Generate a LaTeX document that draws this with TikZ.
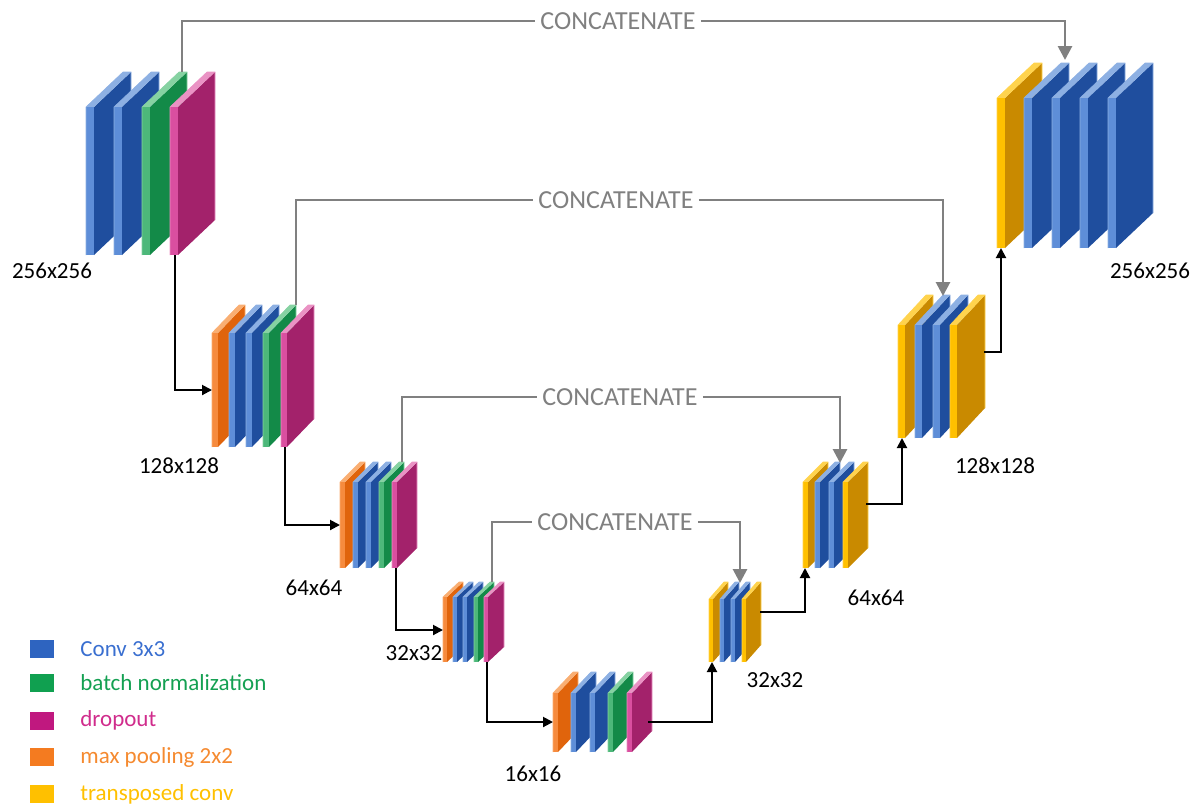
\documentclass[tikz,border=0pt]{standalone}
\usepackage{fontspec}
\setmainfont{Carlito}
\usetikzlibrary{arrows.meta}
% colours
\definecolor{blueF}{HTML}{5E8ED8}\definecolor{blueS}{HTML}{1F4E9E}\definecolor{blueT}{HTML}{8DB0E3}
\definecolor{greenF}{HTML}{4DB87A}\definecolor{greenS}{HTML}{138A48}\definecolor{greenT}{HTML}{86D2A2}
\definecolor{magF}{HTML}{DA4FA0}\definecolor{magS}{HTML}{A3226B}\definecolor{magT}{HTML}{EA92C4}
\definecolor{oraF}{HTML}{F68B3E}\definecolor{oraS}{HTML}{E0640C}\definecolor{oraT}{HTML}{F9AE72}
\definecolor{yelF}{HTML}{FFC000}\definecolor{yelS}{HTML}{C98A00}\definecolor{yelT}{HTML}{FFD34D}
\definecolor{legblue}{HTML}{2E64C0}\definecolor{leggreen}{HTML}{10A050}\definecolor{legmag}{HTML}{C0187F}
\definecolor{legora}{HTML}{F47B20}\definecolor{legyel}{HTML}{FFC000}
\definecolor{txtblue}{HTML}{3A6FD0}\definecolor{txtgreen}{HTML}{14A052}\definecolor{txtmag}{HTML}{D02C8C}
\definecolor{txtora}{HTML}{F58A30}\definecolor{txtyel}{HTML}{FFC000}
\definecolor{concatgray}{HTML}{808080}
% slab: x, ytop, ybot, w, dx, dy, colour prefix
\newcommand\myslab[7]{%
  \fill[#7S] (#1+#4,#2) -- ++(#5,-#6) -- (#1+#4+#5,#3-#6) -- (#1+#4,#3) -- cycle;
  \fill[#7T] (#1,#2) -- ++(#5,-#6) -- ++(#4,0) -- (#1+#4,#2) -- cycle;
  \fill[#7F] (#1,#2) rectangle (#1+#4,#3);
  \draw[#7T,line width=0.3pt] (#1,#3) -- (#1,#2) -- ++(#5,-#6) -- ++(#4,0) -- (#1+#4+#5,#3-#6);
}
\begin{document}
\begin{tikzpicture}[x=0.5pt,y=-0.5pt,
  concat/.style={draw=concatgray,line width=1.4pt},
  concattip/.style={-{Triangle[length=7pt,width=7pt]}},
  flow/.style={draw=black,line width=1pt,-{Triangle[length=5pt,width=5pt]}},
  concattext/.style={text=concatgray,font=\fontsize{13}{15}\selectfont,inner sep=2.5pt,fill=white},
  sizelabel/.style={font=\fontsize{11.5}{13}\selectfont,text=black},
  legbox/.style={minimum width=12pt,minimum height=9pt,inner sep=0pt},
  legtext/.style={font=\fontsize{11.5}{13}\selectfont,anchor=west,inner sep=0pt}]
\useasboundingbox (0,0) rectangle (1199,810);
% ---------- block 1 (256x256)
\myslab{86}{107}{255}{8}{37}{35}{blue}
\myslab{114}{107}{255}{8}{37}{35}{blue}
\myslab{142}{107}{255}{8}{37}{35}{green}
\myslab{170}{107}{255}{8}{37}{35}{mag}
% ---------- block 2 (128x128)
\myslab{212}{333}{447}{6}{27}{28}{ora}
\myslab{229}{333}{447}{6}{27}{28}{blue}
\myslab{246}{333}{447}{6}{27}{28}{blue}
\myslab{263}{333}{447}{6}{27}{28}{green}
\myslab{281}{333}{447}{6}{27}{28}{mag}
% ---------- block 3 (64x64)
\myslab{340}{482}{568}{5}{20}{20}{ora}
\myslab{353}{482}{568}{5}{20}{20}{blue}
\myslab{366}{482}{568}{5}{20}{20}{blue}
\myslab{379}{482}{568}{5}{20}{20}{green}
\myslab{392}{482}{568}{5}{20}{20}{mag}
% ---------- block 4 (32x32)
\myslab{443}{597}{662}{4}{16}{15}{ora}
\myslab{453}{597}{662}{4}{16}{15}{blue}
\myslab{463}{597}{662}{4}{16}{15}{blue}
\myslab{474}{597}{662}{4}{16}{15}{green}
\myslab{484}{597}{662}{4}{16}{15}{mag}
% ---------- block 5 (16x16)
\myslab{553}{693}{752}{5}{20}{21}{ora}
\myslab{571}{693}{752}{5}{20}{21}{blue}
\myslab{590}{693}{752}{5}{20}{21}{blue}
\myslab{608}{693}{752}{5}{20}{21}{green}
\myslab{627}{693}{752}{5}{20}{21}{mag}
% ---------- right block 4 (32x32)
\myslab{709}{599}{662}{4}{15}{17}{yel}
\myslab{720}{599}{662}{4}{15}{17}{blue}
\myslab{731}{599}{662}{4}{15}{17}{blue}
\myslab{742}{599}{662}{4}{15}{17}{yel}
% ---------- right block 3 (64x64)
\myslab{803}{482}{568}{5}{20}{20}{yel}
\myslab{815}{482}{568}{5}{20}{20}{blue}
\myslab{829}{482}{568}{5}{20}{20}{blue}
\myslab{843}{482}{568}{5}{20}{20}{yel}
% ---------- right block 2 (128x128)
\myslab{898}{325}{438}{7}{28}{30}{yel}
\myslab{915}{325}{438}{7}{28}{30}{blue}
\myslab{933}{325}{438}{7}{28}{30}{blue}
\myslab{950}{325}{438}{7}{28}{30}{yel}
% ---------- right block 1 (256x256)
\myslab{997}{98}{248}{8}{37}{35}{yel}
\myslab{1024}{98}{248}{8}{37}{35}{blue}
\myslab{1052}{98}{248}{8}{37}{35}{blue}
\myslab{1080}{98}{248}{8}{37}{35}{blue}
\myslab{1108}{98}{248}{8}{37}{35}{blue}
% ---------- connector end points
\coordinate (c1s) at (182,72);  \coordinate (c1e) at (1065,60);
\coordinate (c2s) at (296,305); \coordinate (c2e) at (943,296);
\coordinate (c3s) at (402,462); \coordinate (c3e) at (840,463);
\coordinate (c4s) at (492,582); \coordinate (c4e) at (740,583);
\coordinate (d1s) at (175,255); \coordinate (d1e) at (212,390);
\coordinate (d2s) at (285,447); \coordinate (d2e) at (340,525);
\coordinate (d3s) at (396,568); \coordinate (d3e) at (443,630);
\coordinate (d4s) at (487,662); \coordinate (d4e) at (553,722);
\coordinate (u1s) at (648,722); \coordinate (u1e) at (712,662);
\coordinate (u2s) at (760,612); \coordinate (u2e) at (805,568);
\coordinate (u3s) at (866,504); \coordinate (u3e) at (902,438);
\coordinate (u4s) at (984,352); \coordinate (u4e) at (1001,248);
% ---------- concatenate connectors
\node[concattext] (t1) at (618,21) {CONCATENATE};
\node[concattext] (t2) at (616,200) {CONCATENATE};
\node[concattext] (t3) at (620,397) {CONCATENATE};
\node[concattext] (t4) at (615,522) {CONCATENATE};
\draw[concat] (c1s) |- (t1.west);
\draw[concat,concattip] (t1.east) -| (c1e);
\draw[concat] (c2s) |- (t2.west);
\draw[concat,concattip] (t2.east) -| (c2e);
\draw[concat] (c3s) |- (t3.west);
\draw[concat,concattip] (t3.east) -| (c3e);
\draw[concat] (c4s) |- (t4.west);
\draw[concat,concattip] (t4.east) -| (c4e);
% ---------- down / up path
\draw[flow] (d1s) |- (d1e);
\draw[flow] (d2s) |- (d2e);
\draw[flow] (d3s) |- (d3e);
\draw[flow] (d4s) |- (d4e);
\draw[flow] (u1s) -| (u1e);
\draw[flow] (u2s) -| (u2e);
\draw[flow] (u3s) -| (u3e);
\draw[flow] (u4s) -| (u4e);
% ---------- size labels
\node[sizelabel] (l1) at (52,271) {256x256};
\node[sizelabel] (l2) at (179,466) {128x128};
\node[sizelabel] (l3) at (314,588) {64x64};
\node[sizelabel] (l4) at (414,653) {32x32};
\node[sizelabel] (l5) at (533,774) {16x16};
\node[sizelabel] (l6) at (775,680) {32x32};
\node[sizelabel] (l7) at (876,598) {64x64};
\node[sizelabel] (l8) at (995,466) {128x128};
\node[sizelabel] (l9) at (1150,271) {256x256};
% ---------- legend
\node[legbox,fill=legblue]  (k1) at (42,649) {};
\node[legbox,fill=leggreen] (k2) at (42,683) {};
\node[legbox,fill=legmag]   (k3) at (42,721) {};
\node[legbox,fill=legora]   (k4) at (42,757) {};
\node[legbox,fill=legyel]   (k5) at (42,794) {};
\node[legtext,text=txtblue]  (e1) at (80,649) {Conv 3x3};
\node[legtext,text=txtgreen] (e2) at (80,683) {batch normalization};
\node[legtext,text=txtmag]   (e3) at (80,720) {dropout};
\node[legtext,text=txtora]   (e4) at (80,757) {max pooling 2x2};
\node[legtext,text=txtyel]   (e5) at (80,794) {transposed conv};
\end{tikzpicture}
\end{document}
